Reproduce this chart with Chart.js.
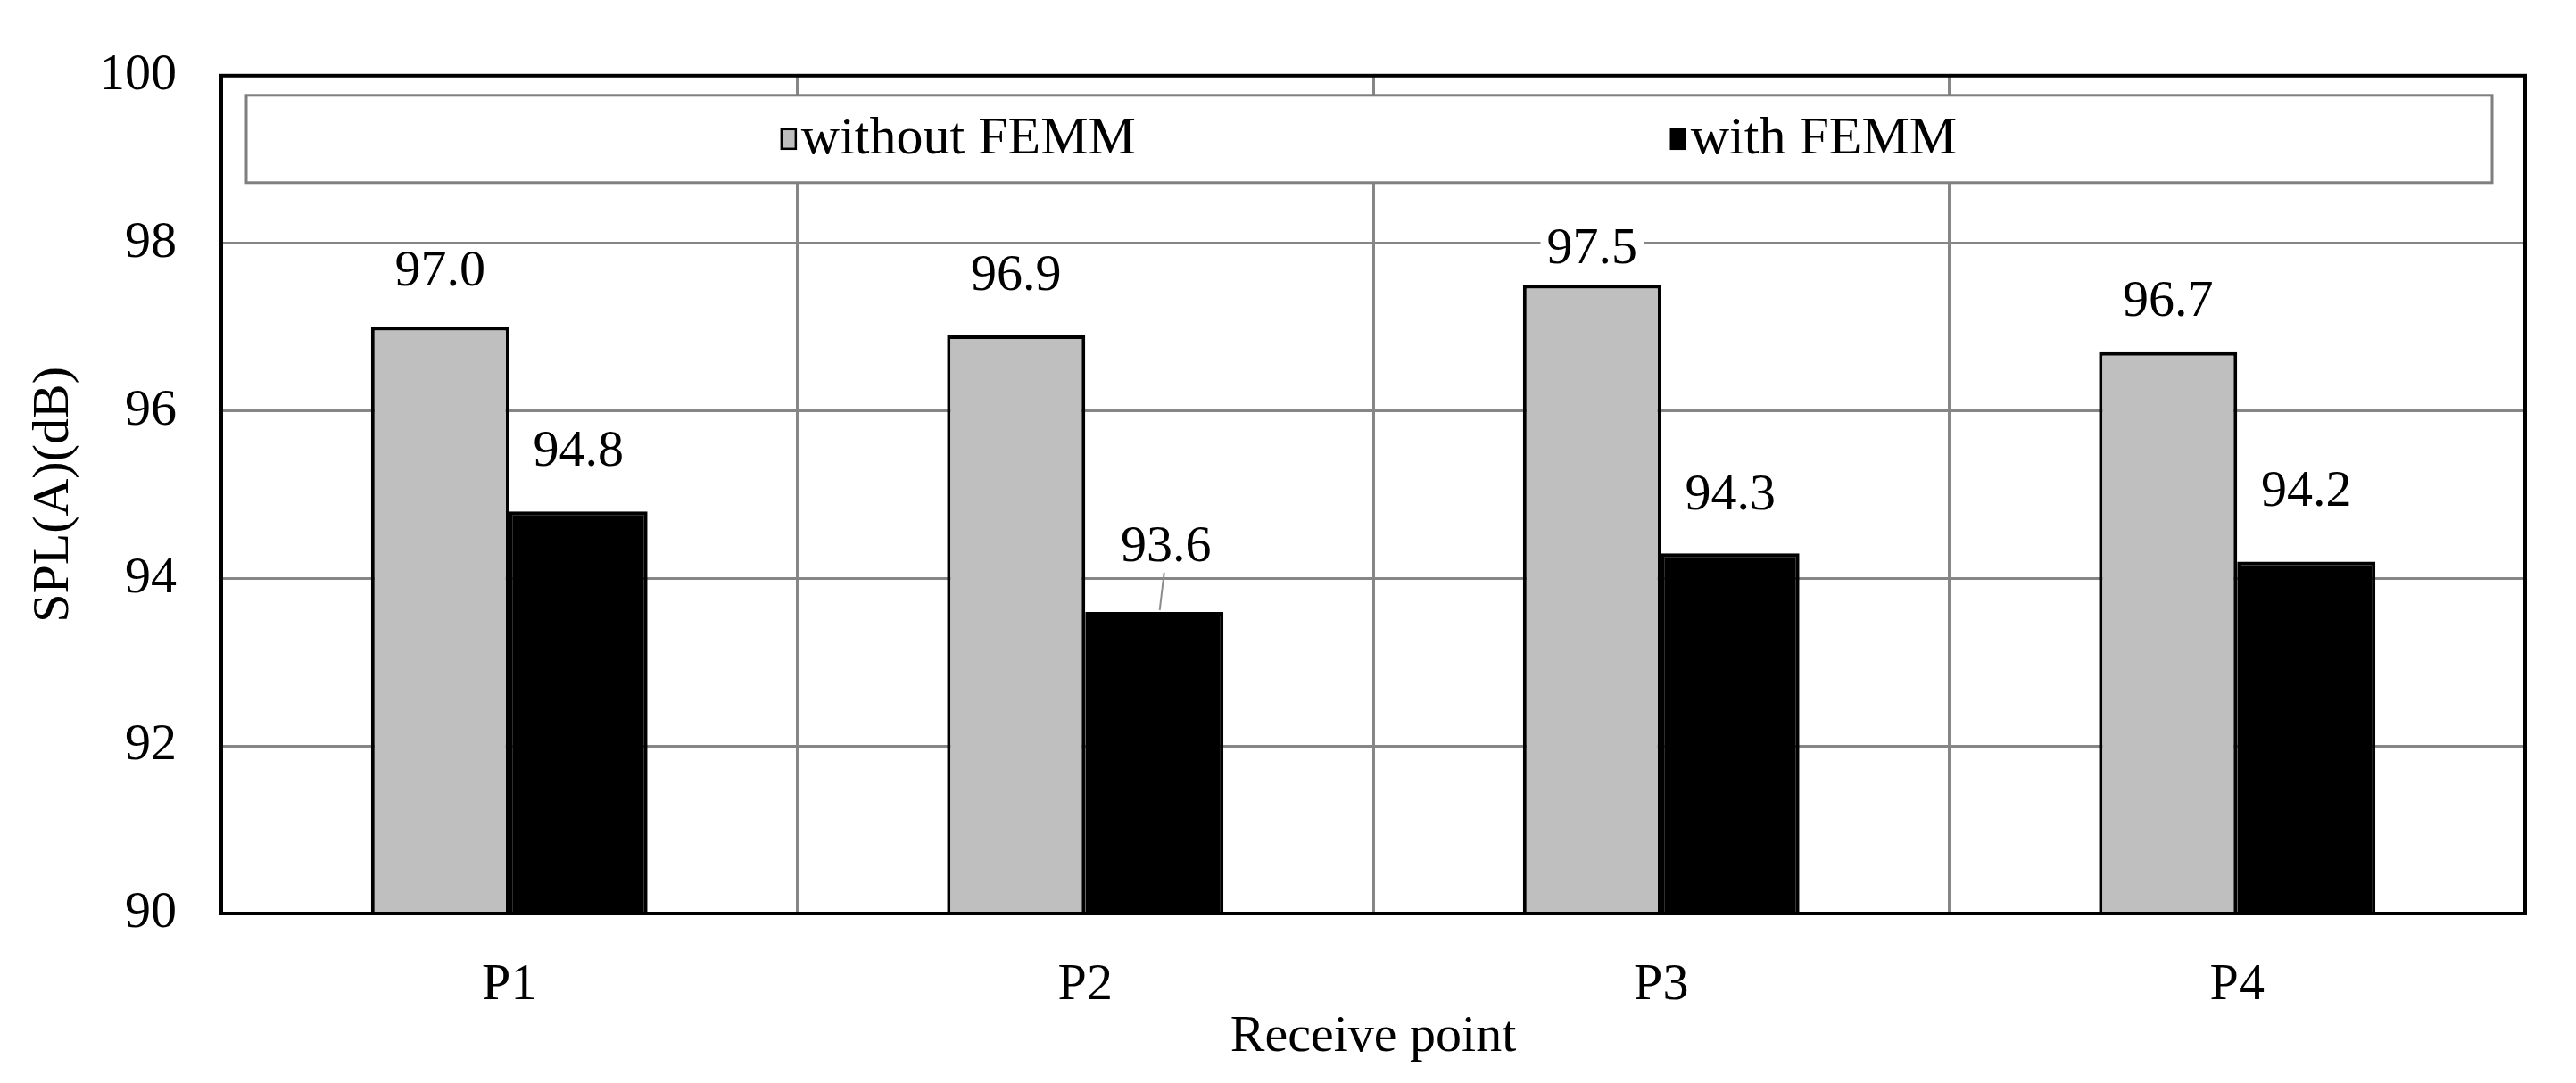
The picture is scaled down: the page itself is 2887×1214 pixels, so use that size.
<!DOCTYPE html>
<html>
<head>
<meta charset="utf-8">
<script src="https://cdn.jsdelivr.net/npm/chart.js@4.4.0/dist/chart.umd.min.js"></script>
<style>
  html, body { margin: 0; padding: 0; background: #fff; }
  #wrap { width: 2887px; height: 1214px; }
</style>
</head>
<body>
<div id="wrap"><canvas id="chart"></canvas></div>
<script>
const receivePoints = ['P1', 'P2', 'P3', 'P4'];
const withoutFemm = [97.0, 96.9, 97.5, 96.7];
const withFemm = [94.8, 93.6, 94.3, 94.2];
const seriesNames = ['without FEMM', 'with FEMM'];

// how far each value label sits above its bar (px), Excel nudged some of them
const labelLift = [[62, 66, 40, 56], [66, 72, 64, 78]];
const labelShift = [[0, 0, 0, 0], [0, 13, 0, 0]];
const leaderLine = [[false, false, false, false], [false, true, false, false]];

const FONT = '"Liberation Serif", "Times New Roman", serif';
const FS = 58;

// legend box drawn inside the plot, on top of the grid
const boxLegend = {
  id: 'boxLegend',
  beforeDatasetsDraw(chart) {
    const { ctx, chartArea } = chart;
    const x0 = chartArea.left + 28, x1 = chartArea.right - 37;
    const y0 = chartArea.top + 22, h = 98;
    ctx.save();
    ctx.fillStyle = '#fff';
    ctx.fillRect(x0, y0, x1 - x0, h);
    ctx.strokeStyle = '#7f7f7f';
    ctx.lineWidth = 3;
    ctx.strokeRect(x0, y0, x1 - x0, h);

    ctx.font = '60px ' + FONT;
    ctx.textBaseline = 'middle';
    ctx.textAlign = 'left';
    const sqW = 16, sqH = 22, gapTxt = 6;
    const widths = chart.data.datasets.map(d => sqW + gapTxt + ctx.measureText(d.label).width);
    const gap = (x1 - x0 - widths.reduce((a, b) => a + b, 0)) / (widths.length + 1);
    let x = x0 + gap;
    const cy = y0 + h / 2;
    chart.data.datasets.forEach((d, i) => {
      ctx.fillStyle = d.backgroundColor;
      ctx.fillRect(x, cy - sqH / 2, sqW, sqH);
      ctx.strokeStyle = '#000';
      ctx.lineWidth = 2.5;
      ctx.strokeRect(x, cy - sqH / 2, sqW, sqH);
      ctx.fillStyle = '#000';
      ctx.fillText(d.label, x + sqW + gapTxt, cy);
      x += widths[i] + gap;
    });
    ctx.restore();
  }
};

const barLabels = {
  id: 'barLabels',
  afterDatasetsDraw(chart) {
    const ctx = chart.ctx;
    ctx.save();
    ctx.font = FS + 'px ' + FONT;
    ctx.textAlign = 'center';
    ctx.textBaseline = 'middle';
    chart.data.datasets.forEach((ds, i) => {
      chart.getDatasetMeta(i).data.forEach((bar, j) => {
        const txt = ds.data[j].toFixed(1);
        const x = bar.x + labelShift[i][j];
        const y = bar.y - labelLift[i][j];
        const w = ctx.measureText(txt).width + 14;
        ctx.fillStyle = '#fff';
        ctx.fillRect(x - w / 2, y - 26, w, 52);
        if (leaderLine[i][j]) {
          ctx.strokeStyle = '#8c8c8c';
          ctx.lineWidth = 2;
          ctx.beginPath();
          ctx.moveTo(x - 2, y + 28);
          ctx.lineTo(bar.x + 6, bar.y - 2);
          ctx.stroke();
        }
        ctx.fillStyle = '#000';
        ctx.fillText(txt, x, y);
      });
    });
    ctx.restore();
  },
  afterDraw(chart) {
    const { ctx, chartArea } = chart;
    ctx.save();
    ctx.strokeStyle = '#000';
    ctx.lineWidth = 4;
    ctx.strokeRect(chartArea.left, chartArea.top, chartArea.right - chartArea.left, chartArea.bottom - chartArea.top);
    ctx.restore();
  }
};

new Chart(document.getElementById('chart'), {
  type: 'bar',
  data: {
    labels: receivePoints,
    datasets: [
      {
        label: seriesNames[0],
        data: withoutFemm,
        backgroundColor: '#bfbfbf',
        borderColor: '#000',
        borderWidth: 4,
        borderSkipped: false,
      },
      {
        label: seriesNames[1],
        data: withFemm,
        backgroundColor: '#000',
        borderColor: '#000',
        borderWidth: 4,
        borderSkipped: false,
      },
    ],
  },
  options: {
    responsive: true,
    maintainAspectRatio: false,
    animation: false,
    devicePixelRatio: 1,
    layout: { padding: { top: 83, right: 57, bottom: 0, left: 0 } },
    datasets: { bar: { categoryPercentage: 0.48, barPercentage: 1.0 } },
    plugins: {
      legend: { display: false },
      tooltip: { enabled: false },
    },
    scales: {
      x: {
        grid: { color: '#868686', lineWidth: 3, drawTicks: false },
        border: { display: false },
        ticks: { color: '#000', font: { family: FONT, size: FS }, padding: 46 },
        title: {
          display: true,
          text: 'Receive point',
          color: '#000',
          font: { family: FONT, size: FS },
          padding: { top: 0, bottom: 16 },
        },
        afterFit(scale) { scale.height = 190; },
      },
      y: {
        min: 90,
        max: 100,
        grid: { color: '#868686', lineWidth: 3, drawTicks: false },
        border: { display: false },
        ticks: { stepSize: 2, color: '#000', font: { family: FONT, size: FS }, padding: 50 },
        title: {
          display: true,
          text: 'SPL(A)(dB)',
          color: '#000',
          font: { family: FONT, size: FS },
          padding: { top: 26, bottom: 0 },
        },
        afterFit(scale) { scale.width = 248; },
      },
    },
  },
  plugins: [boxLegend, barLabels],
});
</script>
</body>
</html>
